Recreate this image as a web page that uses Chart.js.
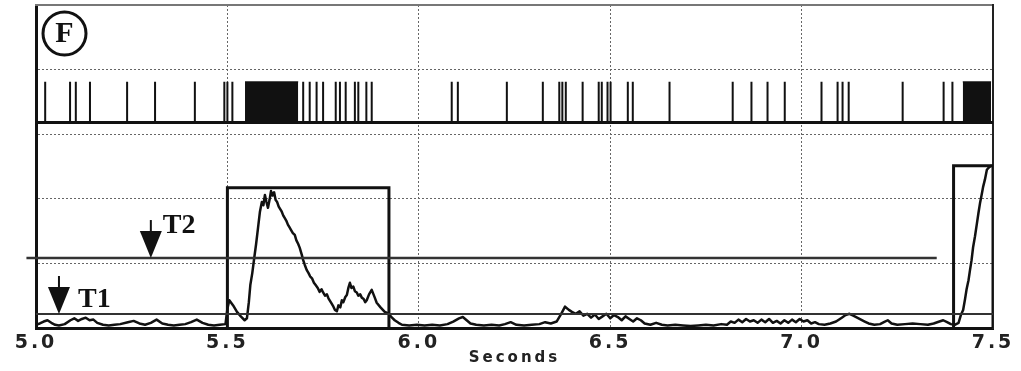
<!DOCTYPE html>
<html>
<head>
<meta charset="utf-8">
<style>
  html, body { margin: 0; padding: 0; background: #fff; }
  #wrap { width: 1021px; height: 371px; position: relative; }
</style>
<script src="https://cdn.jsdelivr.net/npm/chart.js@4.4.1/dist/chart.umd.min.js"></script>
</head>
<body>
<div id="wrap"><canvas id="chart"></canvas></div>
<script>
// spike raster, top strip
const spikeTimes = [5.024, 5.089, 5.104, 5.141, 5.238, 5.311, 5.415, 5.492, 5.500, 5.513,
    5.698, 5.715, 5.733, 5.750, 5.783, 5.794, 5.809, 5.833, 5.842, 5.863, 5.877,
    6.086, 6.102, 6.230, 6.324, 6.367, 6.375, 6.384, 6.428, 6.470, 6.478, 6.493, 6.501,
    6.546, 6.559, 6.655, 6.820, 6.869, 6.911, 6.956, 7.052, 7.094, 7.107, 7.123,
    7.264, 7.371, 7.394];
const burstStarts = [5.546, 7.421];
const burstEnds = [5.685, 7.495];
const rasterBase = 3.18;
const rasterTop = 3.81;

// integrated activity trace
const traceTimes = [
    5.000, 5.010, 5.020, 5.030, 5.040, 5.050, 5.060, 5.075, 5.090, 5.100,
    5.110, 5.120, 5.130, 5.140, 5.150, 5.160, 5.175, 5.190, 5.205, 5.220,
    5.240, 5.255, 5.270, 5.285, 5.300, 5.315, 5.330, 5.345, 5.360, 5.375,
    5.390, 5.405, 5.420, 5.435, 5.450, 5.465, 5.480, 5.495, 5.500, 5.505,
    5.515, 5.525, 5.535, 5.545, 5.551, 5.556, 5.560, 5.565, 5.570, 5.575,
    5.580, 5.585, 5.590, 5.594, 5.598, 5.602, 5.606, 5.610, 5.614, 5.618,
    5.622, 5.626, 5.630, 5.634, 5.638, 5.642, 5.646, 5.650, 5.654, 5.658,
    5.662, 5.666, 5.671, 5.676, 5.680, 5.685, 5.689, 5.694, 5.698, 5.702,
    5.707, 5.712, 5.716, 5.721, 5.726, 5.731, 5.736, 5.741, 5.746, 5.750,
    5.755, 5.760, 5.764, 5.768, 5.772, 5.777, 5.781, 5.786, 5.790, 5.795,
    5.799, 5.803, 5.808, 5.812, 5.816, 5.820, 5.824, 5.829, 5.833, 5.838,
    5.842, 5.847, 5.851, 5.856, 5.860, 5.864, 5.870, 5.877, 5.885, 5.890,
    5.900, 5.911, 5.919, 5.930, 5.937, 5.947, 5.956, 5.975, 5.995, 6.015,
    6.035, 6.055, 6.075, 6.090, 6.105, 6.115, 6.125, 6.135, 6.150, 6.170,
    6.190, 6.210, 6.225, 6.240, 6.255, 6.275, 6.295, 6.315, 6.330, 6.345,
    6.360, 6.372, 6.382, 6.392, 6.400, 6.410, 6.420, 6.430, 6.440, 6.450,
    6.460, 6.470, 6.480, 6.490, 6.500, 6.510, 6.520, 6.530, 6.540, 6.550,
    6.560, 6.570, 6.580, 6.590, 6.605, 6.620, 6.635, 6.650, 6.670, 6.690,
    6.710, 6.730, 6.750, 6.770, 6.790, 6.805, 6.815, 6.825, 6.835, 6.845,
    6.855, 6.865, 6.875, 6.885, 6.895, 6.905, 6.915, 6.925, 6.935, 6.945,
    6.955, 6.965, 6.975, 6.985, 6.995, 7.005, 7.015, 7.025, 7.035, 7.045,
    7.060, 7.075, 7.090, 7.105, 7.115, 7.125, 7.135, 7.145, 7.155, 7.165,
    7.175, 7.190, 7.205, 7.215, 7.225, 7.235, 7.250, 7.270, 7.290, 7.310,
    7.330, 7.345, 7.360, 7.370, 7.380, 7.390, 7.400, 7.410, 7.416, 7.422,
    7.427, 7.431, 7.436, 7.440, 7.444, 7.448, 7.453, 7.458, 7.462, 7.466,
    7.470, 7.474, 7.479, 7.484, 7.490, 7.497
];
const traceValues = [
    0.05, 0.07, 0.10, 0.12, 0.08, 0.05, 0.04, 0.06, 0.12, 0.15,
    0.11, 0.14, 0.16, 0.12, 0.13, 0.08, 0.05, 0.04, 0.05, 0.06,
    0.09, 0.11, 0.07, 0.05, 0.08, 0.13, 0.07, 0.05, 0.04, 0.05,
    0.06, 0.09, 0.13, 0.08, 0.05, 0.04, 0.05, 0.06, 0.30, 0.43,
    0.35, 0.25, 0.18, 0.12, 0.15, 0.40, 0.67, 0.85, 1.08, 1.30,
    1.55, 1.80, 1.95, 1.90, 2.06, 1.95, 1.86, 1.98, 2.12, 2.05,
    2.10, 1.98, 1.95, 1.88, 1.84, 1.80, 1.74, 1.70, 1.66, 1.60,
    1.56, 1.52, 1.47, 1.44, 1.36, 1.30, 1.24, 1.14, 1.05, 0.98,
    0.90, 0.85, 0.80, 0.77, 0.70, 0.66, 0.62, 0.56, 0.60, 0.55,
    0.50, 0.52, 0.46, 0.42, 0.38, 0.33, 0.28, 0.26, 0.35, 0.32,
    0.43, 0.40, 0.48, 0.51, 0.62, 0.70, 0.62, 0.64, 0.57, 0.55,
    0.50, 0.52, 0.47, 0.45, 0.40, 0.43, 0.52, 0.59, 0.47, 0.39,
    0.32, 0.25, 0.23, 0.16, 0.12, 0.08, 0.05, 0.04, 0.05, 0.04,
    0.05, 0.04, 0.06, 0.10, 0.15, 0.17, 0.12, 0.07, 0.05, 0.04,
    0.05, 0.04, 0.06, 0.09, 0.05, 0.04, 0.05, 0.06, 0.09, 0.07,
    0.10, 0.22, 0.33, 0.28, 0.25, 0.22, 0.26, 0.19, 0.22, 0.16,
    0.21, 0.14, 0.18, 0.22, 0.15, 0.20, 0.17, 0.12, 0.18, 0.14,
    0.10, 0.15, 0.12, 0.07, 0.05, 0.08, 0.05, 0.04, 0.05, 0.04,
    0.03, 0.04, 0.05, 0.04, 0.06, 0.05, 0.10, 0.08, 0.13, 0.09,
    0.14, 0.10, 0.12, 0.08, 0.13, 0.09, 0.14, 0.08, 0.11, 0.07,
    0.12, 0.08, 0.13, 0.09, 0.14, 0.10, 0.12, 0.07, 0.09, 0.06,
    0.05, 0.07, 0.10, 0.16, 0.20, 0.22, 0.19, 0.16, 0.13, 0.10,
    0.07, 0.05, 0.06, 0.09, 0.12, 0.07, 0.05, 0.06, 0.07, 0.06,
    0.05, 0.07, 0.10, 0.12, 0.09, 0.06, 0.05, 0.08, 0.20, 0.28,
    0.45, 0.60, 0.74, 0.90, 1.05, 1.25, 1.42, 1.62, 1.78, 1.93,
    2.05, 2.18, 2.30, 2.45, 2.49, 2.52
];

// thresholds
const t1Level = 0.217;
const t2Level = 1.083;
const t1Span = [5.0, 7.5];
const t2Span = [4.975, 7.353];

// detection windows
const boxStarts = [5.500, 7.397];
const boxEnds = [5.922, 7.500];
const boxTops = [2.17, 2.51];

const xTickValues = [5.0, 5.5, 6.0, 6.5, 7.0, 7.5];
const yGridValues = [0, 1, 2, 3, 4, 5];

const ink = '#111';

// raster spikes as one broken line
const spikePoints = [];
spikeTimes.forEach(t => {
    spikePoints.push({x: t, y: rasterBase}, {x: t, y: rasterTop}, {x: t, y: null});
});

const datasets = [];

datasets.push({
    data: [{x: 5.0, y: rasterBase}, {x: 7.5, y: rasterBase}],
    borderColor: ink, borderWidth: 3
});
datasets.push({
    data: spikePoints,
    borderColor: ink, borderWidth: 2, borderCapStyle: 'butt', spanGaps: false
});
burstStarts.forEach((s, i) => {
    datasets.push({
        data: [{x: s, y: rasterTop}, {x: burstEnds[i], y: rasterTop}],
        borderColor: ink, borderWidth: 1,
        backgroundColor: ink,
        fill: {value: rasterBase}
    });
});

// threshold lines
datasets.push({
    data: [{x: t1Span[0], y: t1Level}, {x: t1Span[1], y: t1Level}],
    borderColor: '#333', borderWidth: 2
});
datasets.push({
    data: [{x: t2Span[0], y: t2Level}, {x: t2Span[1], y: t2Level}],
    borderColor: '#333', borderWidth: 2.5, clip: false
});

// window boxes
boxStarts.forEach((s, i) => {
    datasets.push({
        data: [{x: s, y: 0}, {x: s, y: boxTops[i]}, {x: boxEnds[i], y: boxTops[i]}, {x: boxEnds[i], y: 0}],
        borderColor: ink, borderWidth: 3, borderJoinStyle: 'miter'
    });
});

// trace
datasets.push({
    data: traceTimes.map((t, i) => ({x: t, y: traceValues[i]})),
    borderColor: ink, borderWidth: 2.5, borderJoinStyle: 'round'
});

const spacedText = {
    id: 'spacedText',
    beforeDraw(chart) { chart.ctx.letterSpacing = '3px'; },
    beforeDatasetsDraw(chart) { chart.ctx.letterSpacing = '0px'; }
};

const annotations = {
    id: 'annotations',
    afterDraw(chart) {
        const {ctx, chartArea} = chart;
        const xs = chart.scales.x, ys = chart.scales.y;
        ctx.save();
        ctx.letterSpacing = '0px';
        ctx.fillStyle = ink;
        ctx.strokeStyle = ink;

        // panel letter
        const cx = chartArea.left + 28.5, cy = chartArea.top + 28.5;
        ctx.lineWidth = 3;
        ctx.beginPath();
        ctx.arc(cx, cy, 21.5, 0, Math.PI * 2);
        ctx.stroke();
        ctx.font = 'bold 30px "Liberation Serif"';
        ctx.textAlign = 'center';
        ctx.textBaseline = 'middle';
        ctx.fillText('F', cx, cy + 1);

        // threshold arrows
        const marks = [
            {text: 'T1', at: 5.060, level: t1Level, dx: 19, dy: -7},
            {text: 'T2', at: 5.300, level: t2Level, dx: 12, dy: -25}
        ];
        ctx.textAlign = 'left';
        ctx.textBaseline = 'alphabetic';
        ctx.font = 'bold 28px "Liberation Serif"';
        marks.forEach(m => {
            const x = xs.getPixelForValue(m.at);
            const tip = ys.getPixelForValue(m.level);
            ctx.lineWidth = 2;
            ctx.beginPath();
            ctx.moveTo(x, tip - 38);
            ctx.lineTo(x, tip - 20);
            ctx.stroke();
            ctx.beginPath();
            ctx.moveTo(x - 11, tip - 27);
            ctx.lineTo(x + 11, tip - 27);
            ctx.lineTo(x, tip);
            ctx.closePath();
            ctx.fill();
            ctx.fillText(m.text, x + m.dx, tip + m.dy);
        });
        ctx.restore();
    }
};

const gridColor = edges => c => (c.tick && edges.includes(c.tick.value)) ? 'rgba(0,0,0,0)' : '#666';

new Chart(document.getElementById('chart'), {
    type: 'line',
    data: {datasets: datasets},
    options: {
        responsive: true,
        maintainAspectRatio: false,
        animation: false,
        layout: {padding: {top: 5, right: 28, bottom: 0, left: 0}},
        elements: {point: {radius: 0, hoverRadius: 0}, line: {tension: 0}},
        plugins: {legend: {display: false}, tooltip: {enabled: false}},
        scales: {
            x: {
                type: 'linear', min: 5.0, max: 7.5,
                afterBuildTicks: s => { s.ticks = xTickValues.map(v => ({value: v})); },
                afterFit: s => { s.height = 43; },
                grid: {color: gridColor([5.0, 7.5]), lineWidth: 1, drawTicks: false},
                border: {display: true, color: ink, width: 3, dash: [2, 2]},
                ticks: {
                    padding: 4, color: '#222',
                    font: {family: '"DejaVu Sans"', size: 19, weight: 'bold'},
                    callback: v => v.toFixed(1)
                },
                title: {
                    display: true, text: 'Seconds', color: '#222',
                    font: {family: '"DejaVu Sans"', size: 15, weight: 'bold'},
                    padding: {top: 0, bottom: 4}
                }
            },
            y: {
                type: 'linear', min: 0, max: 5,
                afterBuildTicks: s => { s.ticks = yGridValues.map(v => ({value: v})); },
                afterFit: s => { s.width = 36; },
                grid: {color: gridColor([0, 5]), lineWidth: 1, drawTicks: false},
                border: {display: true, color: ink, width: 3, dash: [2, 2]},
                ticks: {display: false}
            },
            x2: {
                type: 'linear', position: 'top', min: 5.0, max: 7.5,
                afterFit: s => { s.height = 0; },
                grid: {display: false, drawTicks: false},
                border: {display: true, color: '#777', width: 2},
                ticks: {display: false}
            },
            y2: {
                type: 'linear', position: 'right', min: 0, max: 5,
                afterFit: s => { s.width = 0; },
                grid: {display: false, drawTicks: false},
                border: {display: true, color: '#222', width: 2},
                ticks: {display: false}
            }
        }
    },
    plugins: [spacedText, annotations]
});
</script>
</body>
</html>
